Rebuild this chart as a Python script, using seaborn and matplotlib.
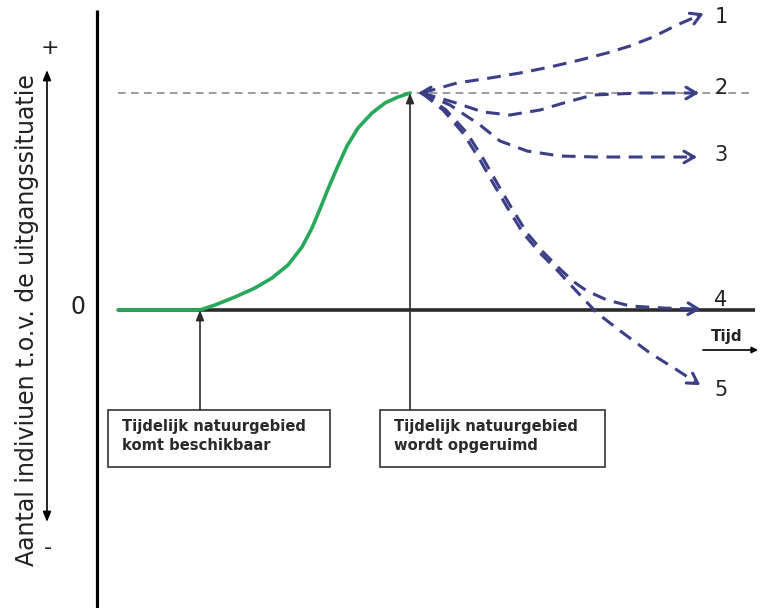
import matplotlib
matplotlib.use("Agg")
import matplotlib.pyplot as plt
import seaborn as sns
import numpy as np
from matplotlib.patches import Rectangle

sns.set_theme(style="white")
plt.rcParams['font.family'] = ['DejaVu Sans']

# ---- data (time in arbitrary units, level relative to starting situation) ----
green_t = [118, 200, 215, 235, 255, 272, 288, 302, 312, 320, 328, 337, 347, 358, 372, 385, 398, 410]
green_v = [0, 0, 5, 13, 22, 32, 45, 63, 82, 101, 121, 142, 164, 182, 197, 207, 213, 217]

s1_t = [422, 457, 490, 520, 550, 580, 607, 630, 653, 677, 700]
s1_v = [217, 227, 232, 237, 243, 250, 257, 264, 273, 285, 295]
s2_t = [422, 453, 483, 510, 540, 567, 593, 640, 695]
s2_v = [217, 208, 198, 195, 200, 208, 215, 217, 217]
s3_t = [422, 450, 480, 500, 527, 560, 597, 643, 693]
s3_v = [217, 205, 185, 169, 159, 154, 153, 153, 153]
s4_t = [422, 446, 467, 484, 497, 511, 527, 544, 561, 574, 587, 607, 630, 663, 697]
s4_v = [217, 200, 177, 150, 127, 103, 77, 57, 40, 28, 19, 10, 4, 2, 1]
s5_t = [422, 443, 463, 480, 493, 507, 523, 540, 557, 568, 580, 597, 623, 650, 677, 697]
s5_v = [217, 200, 177, 150, 127, 103, 77, 57, 40, 28, 15, -3, -23, -43, -60, -73]
scen_labels = ["1", "2", "3", "4", "5"]
scen_label_v = [293, 222, 155, 10, -80]

peak_v = 217
start_t = 200
clear_t = 410
box_texts = ["Tijdelijk natuurgebied\nkomt beschikbaar",
             "Tijdelijk natuurgebied\nwordt opgeruimd"]
ylabel = "Aantal indiviuen t.o.v. de uitgangssituatie"

blue = "#3b3f86"
green = "#27a85a"
dark = "#2b2b2b"

fig = plt.figure(figsize=(7.6, 6.08), dpi=100)
ax = fig.add_axes([0, 0, 1, 1])
ax.set_xlim(0, 760)
ax.set_ylim(-298, 310)
ax.axis("off")

# main vertical axis
ax.plot([97, 97], [300, -298], color="black", lw=2.3, solid_capstyle="butt")
# baseline (time axis)
ax.plot([118, 755], [0, 0], color=dark, lw=2.6, solid_capstyle="butt")
# dashed reference at peak level
ax.plot([118, 752], [peak_v, peak_v], color="#808080", lw=1.1, linestyle=(0, (5, 3.5)))

# green curve
sns.lineplot(x=green_t, y=green_v, sort=False, estimator=None, ax=ax,
             color=green, lw=2.6)

# scenario curves
series = [(s1_t, s1_v), (s2_t, s2_v), (s3_t, s3_v), (s4_t, s4_v), (s5_t, s5_v)]
for (t, v), lab, lv in zip(series, scen_labels, scen_label_v):
    sns.lineplot(x=t, y=v, sort=False, estimator=None, ax=ax, color=blue,
                 lw=2.2, linestyle=(0, (4.5, 2.8)))
    dx, dy = t[-1] - t[-2], v[-1] - v[-2]
    n = np.hypot(dx, dy)
    ax.annotate("", xy=(t[-1] + 4 * dx / n, v[-1] + 4 * dy / n),
                xytext=(t[-1] - 2 * dx / n, v[-1] - 2 * dy / n),
                arrowprops=dict(arrowstyle="->,head_length=0.6,head_width=0.35",
                                color=blue, lw=2.2, shrinkA=0, shrinkB=0))
    ax.text(721, lv, lab, fontsize=15, color="#222222",
            ha="center", va="center")

# left-pointing head at start of scenarios
ax.annotate("", xy=(418, peak_v), xytext=(426, peak_v),
            arrowprops=dict(arrowstyle="->,head_length=0.6,head_width=0.35",
                            color=blue, lw=2.2, shrinkA=0, shrinkB=0))

# pointer arrows from boxes
for x, ytop in [(start_t, 0), (clear_t, peak_v)]:
    ax.annotate("", xy=(x, ytop), xytext=(x, -100),
                arrowprops=dict(arrowstyle="-|>,head_length=0.5,head_width=0.2",
                                color=dark, lw=1.2, shrinkA=0, shrinkB=0))

# boxes
for (x0, x1), txt in zip([(108, 330), (380, 605)], box_texts):
    ax.add_patch(Rectangle((x0, -157), x1 - x0, 57, fill=True, facecolor="white",
                           edgecolor="#333333", lw=1.2))
    ax.text(x0 + 14, -126, txt, fontsize=10.6, fontweight="bold", color="#2a2a2a",
            ha="left", va="center", linespacing=1.4)

# left double arrow with + and -
ax.annotate("", xy=(47, 240), xytext=(47, -212),
            arrowprops=dict(arrowstyle="<|-|>,head_length=0.5,head_width=0.2",
                            color="black", lw=1.2, shrinkA=0, shrinkB=0))
ax.text(50, 262, "+", fontsize=16, ha="center", va="center", color="#222222")
ax.text(48, -238, "-", fontsize=16, ha="center", va="center", color="#222222")
ax.text(27, -10, ylabel, rotation=90, fontsize=17, ha="center", va="center",
        color="#222222")
ax.text(78, 3, "0", fontsize=17, ha="center", va="center", color="#222222")

# time label
ax.text(727, -26, "Tijd", fontsize=11, fontweight="bold", ha="center",
        va="center", color="#222222")
ax.annotate("", xy=(758, -40), xytext=(703, -40),
            arrowprops=dict(arrowstyle="-|>,head_length=0.3,head_width=0.15",
                            color="black", lw=1.2, shrinkA=0, shrinkB=0))

fig.savefig("out.png", dpi=100, facecolor="white")
